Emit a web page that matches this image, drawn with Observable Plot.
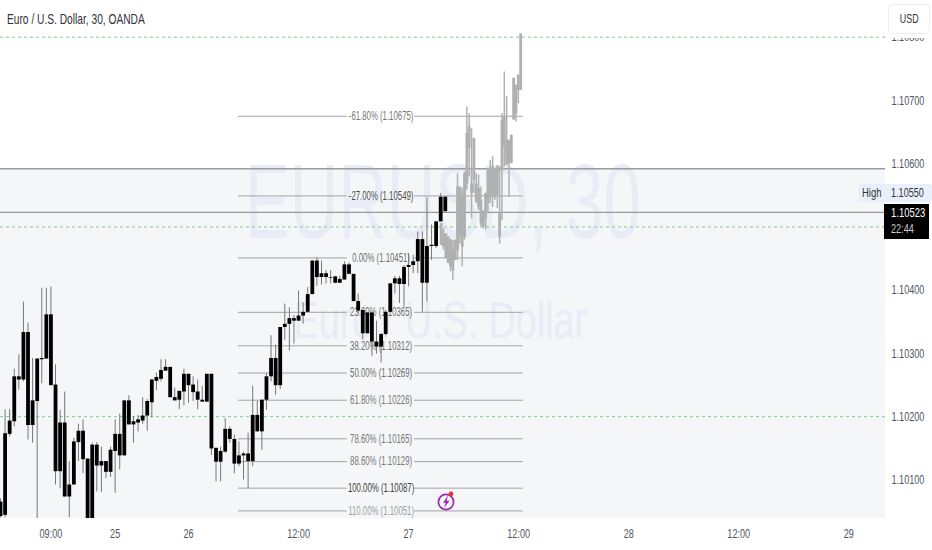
<!DOCTYPE html>
<html>
<head>
<meta charset="utf-8">
<script src="https://cdn.jsdelivr.net/npm/d3@7"></script>
<script src="https://cdn.jsdelivr.net/npm/@observablehq/plot@0.6"></script>
<style>
html,body{margin:0;padding:0;background:#fff;width:932px;height:550px;overflow:hidden}
#wrap{position:relative;width:932px;height:550px;font-family:"Liberation Sans",sans-serif}
#wrap svg{display:block}
.ov{position:absolute;white-space:nowrap}
</style>
</head>
<body>
<div id="wrap"></div>
<script>
// Prices in 1e-5 units (110432 = 1.10432). Solid candles, one per 30-minute bar.
const solidTop = [110065,110173,110193,110263,110263,110333,110333,110225,110291,110292,110361,110361,110250,110190,110190,110092,110160,110177,110177,110133,110155,110155,110129,110129,110147,110172,110172,110225,110225,110192,110195,110201,110224,110258,110262,110273,110278,110278,110230,110240,110267,110267,110250,110239,110226,110267,110267,110150,110145,110180,110180,110164,110138,110141,110141,110202,110202,110226,110263,110292,110292,110341,110346,110355,110355,110359,110365,110393,110446,110446,110426,110426,110420,110421,110417,110440,110440,110425,110382,110368,110364,110364,110318,110330,110365,110410,110418,110418,110436,110439,110445,110480,110480,110469,110471,110508,110547,110547];
const solidBottom = [110042,110044,110172,110192,110258,110258,110186,110186,110224,110290,110291,110249,110113,110113,110073,110073,110092,110159,110132,110030,110030,110122,110122,110112,110112,110145,110138,110138,110187,110187,110190,110193,110201,110222,110256,110259,110272,110230,110225,110226,110239,110249,110238,110226,110223,110223,110149,110128,110128,110144,110164,110125,110125,110138,110129,110129,110176,110176,110226,110263,110249,110249,110341,110346,110351,110351,110359,110365,110393,110420,110420,110420,110419,110411,110411,110416,110425,110382,110367,110331,110331,110318,110310,110310,110330,110365,110410,110409,110409,110436,110439,110445,110411,110411,110469,110469,110508,110524];
const solidHigh = [110070,110211,110211,110275,110298,110381,110348,110292,110292,110403,110403,110405,110282,110210,110239,110129,110166,110188,110195,110133,110158,110159,110152,110129,110152,110195,110204,110225,110233,110200,110202,110230,110227,110258,110269,110290,110290,110278,110245,110240,110275,110267,110263,110258,110248,110267,110267,110150,110152,110197,110184,110171,110160,110144,110174,110248,110224,110226,110268,110328,110313,110341,110378,110372,110360,110399,110380,110404,110446,110451,110446,110431,110431,110422,110422,110445,110443,110425,110394,110368,110364,110364,110351,110331,110368,110410,110422,110422,110439,110458,110455,110492,110492,110546,110503,110508,110553,110548];
const solidLow = [110040,110040,110168,110184,110242,110255,110163,110158,110030,110252,110291,110249,110092,110086,110073,110040,110092,110129,110110,110030,110030,110081,110080,110102,110104,110079,110116,110138,110187,110158,110176,110188,110177,110198,110241,110255,110272,110230,110225,110211,110217,110221,110224,110211,110223,110223,110139,110097,110097,110142,110158,110110,110121,110100,110086,110121,110176,110147,110210,110255,110234,110243,110321,110304,110315,110351,110346,110365,110393,110406,110408,110410,110410,110410,110411,110416,110425,110382,110363,110321,110331,110295,110299,110285,110328,110365,110394,110379,110373,110405,110426,110426,110365,110381,110447,110466,110508,110524];

// Compressed grey projection of the same bars.
const ghostIndex = [96.1,96.61,97.12,97.63,98.14,98.65,99.16,99.67,100.18,100.69,101.2,101.71,102.22,102.73,103.24,103.75,104.26,104.77,105.28,105.79,106.3,106.81,107.32,107.83,108.34,108.85,109.36,109.87,110.38,110.89,111.4,111.91,112.42,112.93,113.44];
const ghostTop = [110505,110489,110489,110484,110479,110463,110479,110563,110563,110550,110584,110648,110658,110568,110640,110568,110561,110542,110524,110553,110592,110592,110595,110592,110595,110521,110669,110674,110637,110637,110645,110735,110724,110740,110805];
const ghostBottom = [110471,110468,110450,110442,110437,110431,110447,110463,110484,110468,110484,110568,110624,110553,110574,110539,110531,110505,110500,110513,110537,110547,110550,110547,110550,110484,110590,110626,110597,110600,110600,110669,110679,110716,110716];
const ghostHigh = [110505,110497,110489,110484,110481,110479,110479,110585,110563,110561,110587,110690,110679,110655,110640,110584,110582,110563,110526,110553,110592,110605,110611,110592,110597,110595,110679,110745,110706,110637,110645,110735,110724,110740,110805];
const ghostLow = [110471,110463,110450,110442,110429,110415,110447,110447,110473,110437,110479,110558,110579,110513,110553,110537,110526,110500,110497,110495,110521,110537,110531,110542,110529,110473,110510,110595,110597,110547,110600,110669,110666,110695,110716];

const fibPct = ["-61.80%","-27.00%","0.00%","23.60%","38.20%","50.00%","61.80%","78.60%","88.60%","100.00%","110.00%"];
const fibPrice = [1.10675,1.10549,1.10451,1.10365,1.10312,1.10269,1.10226,1.10165,1.10129,1.10087,1.10051];
const fibTone = ["#777777","#4d4d4d","#6e6e6e","#6e6e6e","#6e6e6e","#6e6e6e","#777777","#777777","#777777","#3d3d3d","#a0a0a0"];

const priceTicks = [1.101,1.102,1.103,1.104,1.105,1.106,1.107,1.108];
const timeTicks = [11,25,41,65,89,113,137,161,185];
const timeLabels = ["09:00","25","26","12:00","27","12:00","28","12:00","29"];

const greenLevels = [1.108,1.105,1.102];
const greyLevels = [1.10592,1.10523];
const zoneTop = 1.10592;
const X0 = 0, X1 = 193, Y0 = 1.10039, Y1 = 1.10858;

const idx = solidTop.map((_, i) => i);
const P = v => v / 1e5;
const fibRows = fibPct.map((p, i) => ({p, price: fibPrice[i], tone: fibTone[i]}));

const solidRows = idx.map(i => ({i, top: P(solidTop[i]), bottom: P(solidBottom[i]), high: P(solidHigh[i]), low: P(solidLow[i])}));
const ghostRows = ghostIndex.map((x, k) => ({x, top: P(ghostTop[k]), bottom: P(ghostBottom[k]), high: P(ghostHigh[k]), low: P(ghostLow[k])}));

const chart = Plot.plot({
  width: 932, height: 550,
  marginLeft: 0, marginRight: 47, marginTop: 0, marginBottom: 32,
  style: {background: "#ffffff", fontFamily: '"Liberation Sans",sans-serif', overflow: "hidden"},
  x: {type: "linear", domain: [X0, X1], axis: null},
  y: {type: "linear", domain: [Y0, Y1], axis: null},
  marks: [
    Plot.rect([{x1: X0, x2: X1, y1: Y0, y2: zoneTop}], {x1: "x1", x2: "x2", y1: "y1", y2: "y2", fill: "#f4f6f8"}),
    Plot.text(["EURUSD, 30"], {x: 53.3, y: 1.10535, text: d => d, textAnchor: "start", fontSize: 105, fill: "#e8ecf6"}),
    Plot.text(["Euro / U.S. Dollar"], {x: 63.9, y: 1.1035, text: d => d, textAnchor: "start", fontSize: 51, fill: "#e8ecf6"}),
    Plot.ruleY(greyLevels, {stroke: "#9a9a9a", strokeWidth: 1.3}),
    Plot.ruleY(greenLevels, {stroke: "#7fcb90", strokeWidth: 1, strokeDasharray: "3,3"}),
    Plot.ruleY(fibPrice, {x1: 51.9, x2: 75.6, stroke: "#a3a3a3", strokeWidth: 1}),
    Plot.ruleY(fibPrice, {x1: 90.3, x2: 114, stroke: "#a3a3a3", strokeWidth: 1}),
    Plot.text(fibRows, {x: 83, y: "price", text: d => `${d.p} (${d.price.toFixed(5)})`, fill: "tone", fontSize: 12}),
    Plot.ruleX(ghostRows, {x: "x", y1: "low", y2: "high", stroke: "#b0b0b0", strokeWidth: 1.5, clip: true}),
    Plot.ruleX(ghostRows, {x: "x", y1: "bottom", y2: "top", stroke: "#b0b0b0", strokeWidth: 2.8, clip: true}),
    Plot.ruleX(solidRows, {x: "i", y1: "low", y2: "high", stroke: "#777777", strokeWidth: 1, clip: true}),
    Plot.ruleX(solidRows, {x: "i", y1: "bottom", y2: "top", stroke: "#000000", strokeWidth: 3.8, clip: true}),
    Plot.axisY(priceTicks, {anchor: "right", tickSize: 0, tickPadding: 6, tickFormat: d3.format(".5f"), fontSize: 13, color: "#505560", label: null}),
    Plot.axisX(timeTicks, {anchor: "bottom", tickSize: 0, tickPadding: 10, tickFormat: d => timeLabels[timeTicks.indexOf(d)], fontSize: 13, color: "#505560", label: null})
  ]
});
const wrap = document.getElementById("wrap");
wrap.appendChild(chart);

// The reference's type is narrow: condense every label horizontally.
const condense = {105: .64, 51: .74, 12: .65, 13: .70};
chart.querySelectorAll("text").forEach(t => {
  const size = parseFloat(getComputedStyle(t).fontSize);
  const f = condense[size] || .70;
  t.setAttribute("textLength", t.getComputedTextLength() * f);
  t.setAttribute("lengthAdjust", "spacingAndGlyphs");
});

function add(html, css) {
  const d = document.createElement("div");
  d.className = "ov";
  d.style.cssText = css;
  d.innerHTML = html;
  wrap.appendChild(d);
}
const narrow = "transform:scaleX(.70);transform-origin:left center;";
add("Euro / U.S. Dollar, 30, OANDA", "transform:scaleX(.68);transform-origin:left center;left:7px;top:10px;font-size:15px;line-height:18px;color:#2e3138;");
add("", "left:886px;top:0;width:46px;height:38px;background:#fff;");
add('<span style="display:inline-block;transform:scaleX(.66)">USD</span>', "left:888px;top:4px;width:42px;height:30px;box-sizing:border-box;background:#fff;border:1px solid #eeeeee;border-radius:4px;font-size:13.5px;line-height:28px;text-align:center;color:#333;");
add("", "left:858px;top:184px;width:74px;height:18px;background:#e9f0fb;border-radius:3px;");
add("High", narrow + "left:862px;top:185px;font-size:13.5px;line-height:16px;color:#333;");
add("1.10550", narrow + "left:891px;top:185px;font-size:13px;line-height:16px;color:#333;");
add('<div style="' + narrow + 'font-size:13.5px;line-height:16px;color:#fff">1.10523</div><div style="' + narrow + 'font-size:13px;line-height:16px;color:#cccccc">22:44</div>',
    "left:884px;top:204px;width:45px;height:35px;box-sizing:border-box;background:#000;padding:1px 0 0 7px;");
add('<svg width="22" height="26" viewBox="0 0 22 26"><circle cx="10" cy="14" r="7.6" fill="none" stroke="#9c27b0" stroke-width="1.7"/><path d="M12 7.5 L7 14.8 L9.8 14.8 L8.2 20 L13.5 12.8 L10.6 12.8 Z" fill="#9c27b0"/><circle cx="15" cy="6" r="2.4" fill="#e53935"/></svg>',
    "left:436px;top:488px;");
</script>
</body>
</html>
